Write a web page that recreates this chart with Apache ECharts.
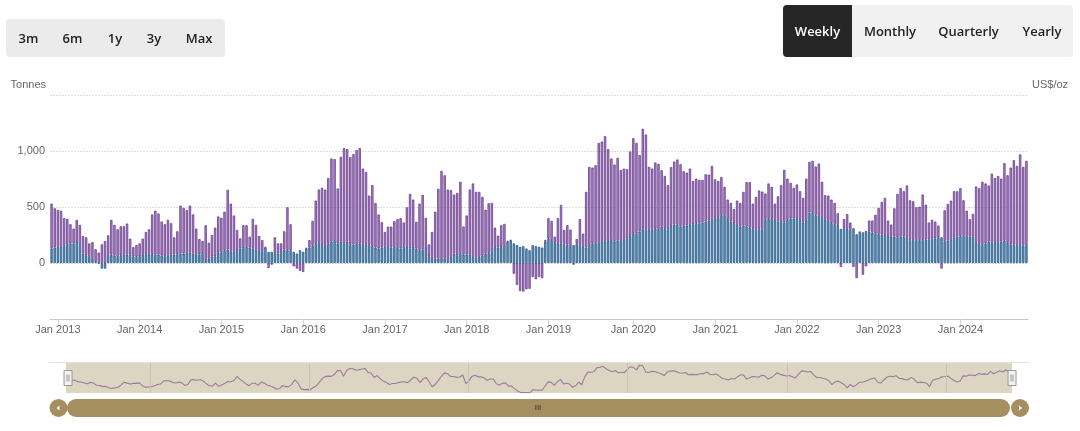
<!DOCTYPE html>
<html>
<head>
<meta charset="utf-8">
<script src="https://cdn.jsdelivr.net/npm/echarts@6/dist/echarts.min.js"></script>
<style>
html,body{margin:0;padding:0;background:#fff;}
#wrap{position:relative;width:1080px;height:431px;overflow:hidden;}
#chart{position:absolute;left:0;top:0;width:1080px;height:431px;}
.grp{position:absolute;border-radius:4px;font-family:"Open Sans","Liberation Sans",sans-serif;font-weight:600;font-size:13px;color:#222;}
.btn{position:absolute;text-align:center;white-space:nowrap;}
</style>
</head>
<body>
<div id="wrap">
  <div id="chart"></div>
  <div class="grp" style="left:6px;top:19px;width:219px;height:38px;background:#ebebeb;">
    <span class="btn" style="left:2px;width:41px;top:0;line-height:38px;">3m</span>
    <span class="btn" style="left:46px;width:41px;top:0;line-height:38px;">6m</span>
    <span class="btn" style="left:89px;width:40px;top:0;line-height:38px;">1y</span>
    <span class="btn" style="left:128px;width:40px;top:0;line-height:38px;">3y</span>
    <span class="btn" style="left:171px;width:44px;top:0;line-height:38px;">Max</span>
  </div>
  <div class="grp" style="left:783px;top:5px;width:290px;height:52px;background:#f1f1f1;">
    <span class="btn" style="left:0;width:69px;top:0;height:52px;line-height:52px;background:#262626;color:#fff;border-radius:4px 0 0 4px;">Weekly</span>
    <span class="btn" style="left:72px;width:70px;top:0;line-height:52px;">Monthly</span>
    <span class="btn" style="left:145px;width:81px;top:0;line-height:52px;">Quarterly</span>
    <span class="btn" style="left:229px;width:60px;top:0;line-height:52px;">Yearly</span>
  </div>
</div>
<script>
// ---- data (tonnes, fortnightly bars) ----
const startDate = '2012-12-11';
const stepDays = 14;
const tickLabels = ['Jan 2013','Jan 2014','Jan 2015','Jan 2016','Jan 2017','Jan 2018','Jan 2019','Jan 2020','Jan 2021','Jan 2022','Jan 2023','Jan 2024'];
const navigatorYears = [2014, 2016, 2018, 2020, 2022, 2024];

const otherPositions = [
129,138,144,144,160,168,175,175,205,160,84,69,54,39,18,-5,-50,-50,70,75,
66,54,69,75,75,78,60,54,60,78,78,84,78,78,75,66,60,63,75,75,
78,84,84,90,93,84,78,78,99,24,39,60,60,96,90,114,120,108,99,108,
129,150,144,138,129,120,108,99,138,99,99,90,84,114,120,114,114,99,84,114,
100,129,138,156,168,180,160,160,175,190,205,175,190,175,190,160,165,168,
175,160,168,160,150,138,129,138,144,150,138,144,150,129,160,144,129,150,129,114,120,144,
60,45,39,39,45,39,18,54,84,69,90,75,75,75,54,45,54,69,84,90,
90,144,138,144,160,190,200,175,160,144,150,129,114,160,150,144,138,190,220,205,
180,180,175,160,165,144,160,175,160,144,138,160,175,180,180,205,190,205,205,190,
199,196,205,220,241,259,265,280,310,301,295,295,310,295,325,310,301,331,343,340,
325,334,334,340,346,355,355,361,370,379,385,400,409,
430,421,391,370,355,340,325,334,325,319,310,301,310,295,385,400,400,385,370,376,
364,391,397,397,400,385,361,
385,451,454,427,421,409,385,376,355,340,340,304,310,304,295,310,256,274,274,286,
280,271,265,259,256,250,241,235,235,229,235,235,229,205,205,205,205,205,211,211,
220,220,229,229,
190,199,205,229,235,241,241,241,235,235,180,168,160,175,190,180,186,180,190,199,
180,165,165,160,168,156,160
];

const managedMoney = [
401,350,329,323,240,226,171,132,180,180,157,160,121,148,105,93,166,196,177,310,
274,247,259,253,277,139,81,106,115,139,199,217,355,389,367,304,286,322,280,154,
205,428,407,383,419,349,229,136,97,313,142,190,256,319,313,344,533,422,325,187,
91,187,193,97,265,220,133,106,5,-45,-15,139,91,61,163,383,232,-30,-50,-70,
-80,5,67,220,389,476,511,496,584,743,722,490,758,851,827,785,807,840,
851,683,645,442,545,398,304,226,133,175,187,229,241,271,201,353,488,416,238,416,
488,259,106,232,419,623,777,744,638,596,527,557,635,250,349,581,656,590,581,521,
392,443,446,172,106,193,189,6,5,-96,-195,-250,-255,-235,-230,-125,-145,-125,-135,15,
180,171,55,220,343,135,172,154,-15,39,231,118,497,698,677,693,892,879,942,812,
728,689,740,635,638,617,755,855,807,683,888,846,563,548,587,590,503,467,394,524,
563,584,557,485,473,503,386,398,386,380,422,410,482,347,323,
338,259,175,166,127,217,211,301,397,403,220,289,337,343,235,310,280,145,226,319,
467,362,319,274,301,256,220,368,452,458,434,467,316,220,226,211,196,105,-35,81,
132,66,-35,-135,5,-105,-30,99,108,165,232,289,331,138,108,253,388,433,406,463,
355,346,292,298,406,310,150,165,150,105,-50,280,328,352,412,406,427,319,226,156,
204,503,500,565,535,502,618,573,597,563,692,603,687,753,707,801,702,752
];

// ---- derived ----
const DAY = 86400000;
const t0 = Date.parse(startDate + 'T00:00:00Z');
const times = otherPositions.map((_, i) => t0 + i * stepDays * DAY);
const categories = times.map(t => new Date(t).toISOString().slice(0, 10));
const netTotal = otherPositions.map((v, i) => v + managedMoney[i]);
const yearOf = s => +s.slice(0, 4);
// first fortnight of each labelled year carries the "Jan yyyy" tick
const isYearStart = idx => idx > 0 && yearOf(categories[idx]) !== yearOf(categories[idx - 1]);
const labelFor = idx => {
  const lbl = 'Jan ' + yearOf(categories[idx]);
  return tickLabels.indexOf(lbl) >= 0 ? lbl : '';
};

const chart = echarts.init(document.getElementById('chart'), null, {renderer: 'canvas'});
const font = '"Liberation Sans", Arial, sans-serif';

chart.setOption({
  animation: false,
  textStyle: {fontFamily: font},
  grid: [
    {left: 50, right: 52, top: 95, height: 224},
    {left: 66, right: 68, top: 363, height: 30, show: true, backgroundColor: '#dcd5c2', borderWidth: 0}
  ],
  xAxis: [
    {
      type: 'category', gridIndex: 0, data: categories, boundaryGap: true,
      axisLine: {onZero: false, lineStyle: {color: '#c8c8c8', width: 1}},
      axisTick: {show: true, alignWithLabel: true, interval: (i) => isYearStart(i), length: 7, lineStyle: {color: '#ccd6eb'}},
      axisLabel: {
        interval: (i) => isYearStart(i), color: '#666', fontSize: 11, margin: 5,
        formatter: (v, i) => labelFor(i)
      },
      splitLine: {show: false}
    },
    {
      type: 'value', gridIndex: 1, min: times[0], max: times[times.length - 1], show: false,
      splitLine: {show: false}
    }
  ],
  yAxis: [
    {
      type: 'value', gridIndex: 0, min: -500, max: 1500, interval: 500,
      name: 'Tonnes', nameLocation: 'end', nameGap: 5,
      nameTextStyle: {color: '#666', fontSize: 11, align: 'right', padding: [0, 4, 0, 0]},
      axisLine: {show: false}, axisTick: {show: false},
      axisLabel: {
        color: '#666', fontSize: 11, margin: 5,
        formatter: v => (v <= -500 || v >= 1500) ? '' : v.toLocaleString('en-US')
      },
      splitLine: {show: true, lineStyle: {color: '#dcdcdc', type: [2, 1], width: 1}}
    },
    {
      type: 'value', gridIndex: 0, position: 'right', min: 0, max: 1,
      name: 'US$/oz', nameLocation: 'end', nameGap: 5,
      nameTextStyle: {color: '#666', fontSize: 11, align: 'left', padding: [0, 0, 0, 4]},
      axisLine: {show: false}, axisTick: {show: false}, axisLabel: {show: false}, splitLine: {show: false}
    },
    {
      type: 'value', gridIndex: 1, show: false, splitLine: {show: false},
      min: v => v.min - 10, max: v => v.max + 90
    }
  ],
  dataZoom: [{
    type: 'slider', xAxisIndex: 0, start: 0, end: 100,
    left: 66, right: 68, top: 363, height: 30,
    backgroundColor: 'rgba(0,0,0,0)', fillerColor: 'rgba(0,0,0,0)', borderColor: 'rgba(0,0,0,0)',
    showDataShadow: false, showDetail: false, brushSelect: false, moveHandleSize: 0,
    handleIcon: 'path://M0,0 L8,0 L8,15 L0,15 Z M3,4 L3,11 M5,4 L5,11',
    handleSize: 15,
    handleStyle: {color: '#f2f2f2', borderColor: '#999', borderWidth: 1}
  }],
  series: [
    {
      name: 'Other positions', type: 'bar', stack: 'net', xAxisIndex: 0, yAxisIndex: 0,
      data: otherPositions,
      barWidth: 2.3,
      itemStyle: {color: '#6292bb', borderColor: '#1b4f7c', borderWidth: 0.7}
    },
    {
      name: 'Managed money', type: 'bar', stack: 'net', xAxisIndex: 0, yAxisIndex: 0,
      data: managedMoney,
      barWidth: 2.3,
      itemStyle: {color: '#a883c0', borderColor: '#5f2e84', borderWidth: 0.7}
    },
    {
      name: 'Net total', type: 'line', xAxisIndex: 1, yAxisIndex: 2,
      data: times.map((t, i) => [t, netTotal[i]]),
      showSymbol: false, silent: true,
      lineStyle: {color: '#9b7b9c', width: 1.1},
      markLine: {
        silent: true, symbol: ['none', 'none'], label: {show: false},
        lineStyle: {color: '#cbc3ae', width: 1, type: 'solid'},
        data: navigatorYears.map(y => ({xAxis: Date.UTC(y, 0, 1)}))
      }
    }
  ],
  graphic: [
    {type: 'line', shape: {x1: 49, y1: 362.5, x2: 1029, y2: 362.5}, style: {stroke: '#e3e3e3', lineWidth: 1}, silent: true},
    {type: 'rect', shape: {x: 67, y: 399, width: 943, height: 18, r: 9}, style: {fill: '#a58f60'}, silent: true},
    {type: 'circle', shape: {cx: 58.5, cy: 408, r: 9}, style: {fill: '#a58f60'}, silent: true},
    {type: 'circle', shape: {cx: 1020, cy: 408, r: 9}, style: {fill: '#a58f60'}, silent: true},
    {type: 'polygon', shape: {points: [[56.5, 408], [59.5, 405.5], [59.5, 410.5]]}, style: {fill: '#fff'}, silent: true},
    {type: 'polygon', shape: {points: [[1022, 408], [1019, 405.5], [1019, 410.5]]}, style: {fill: '#fff'}, silent: true},
    {type: 'text', x: 538, y: 408, style: {text: 'III', fill: '#333', font: '8px ' + font, textAlign: 'center', textVerticalAlign: 'middle'}, silent: true}
  ]
});
</script>
</body>
</html>
